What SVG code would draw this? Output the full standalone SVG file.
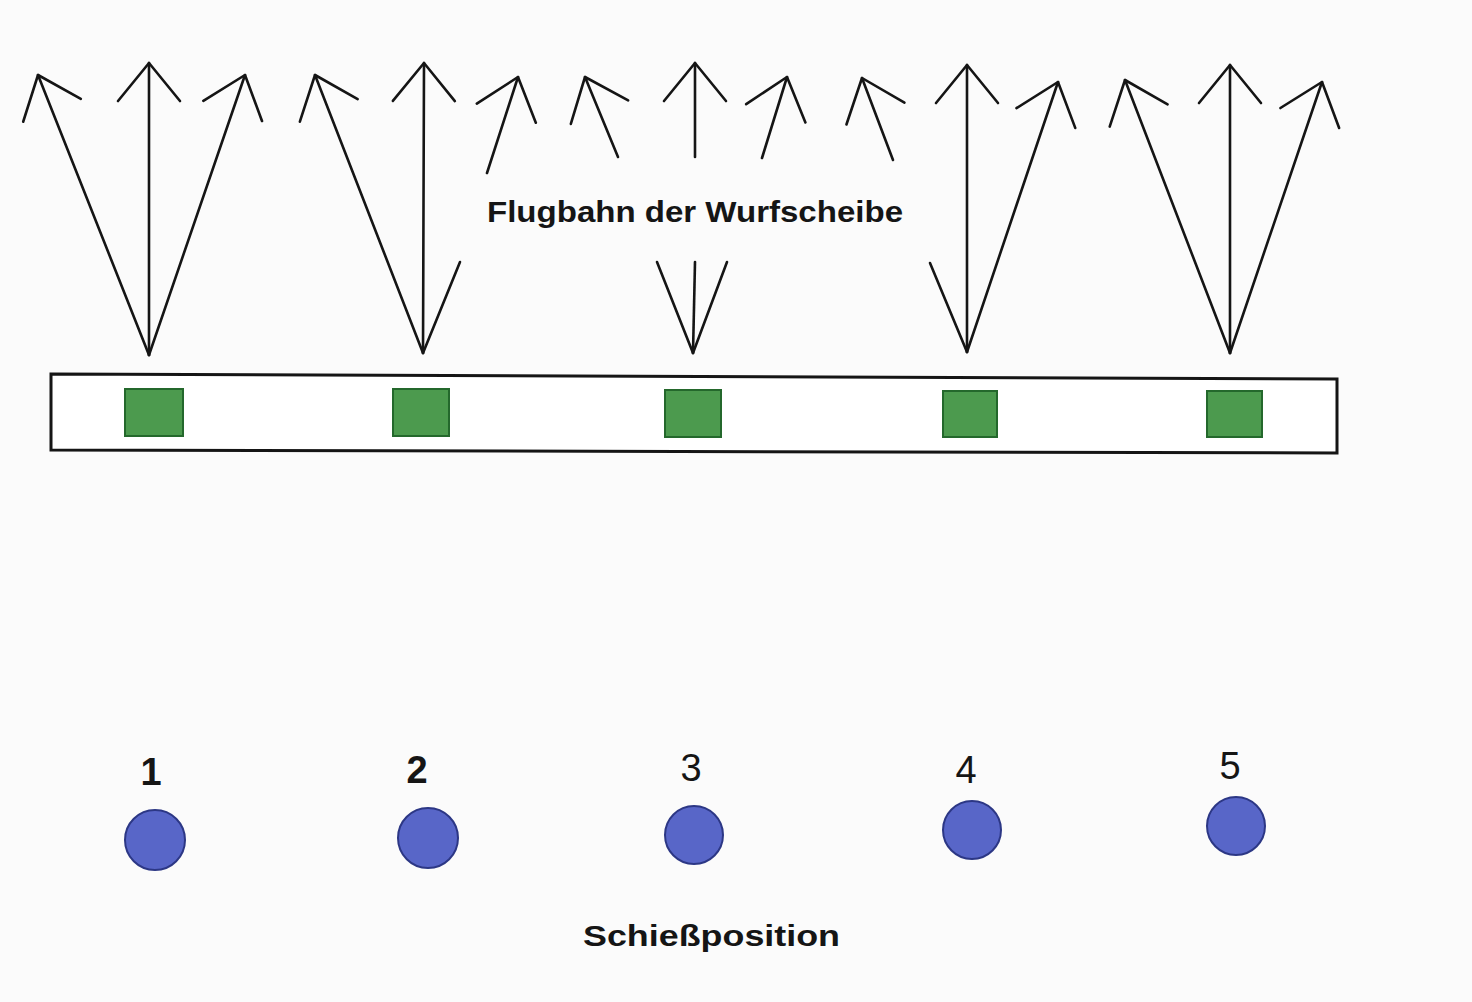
<svg xmlns="http://www.w3.org/2000/svg" width="1472" height="1002" viewBox="0 0 1472 1002">
<style>
.ln{stroke:#151515;stroke-width:2.6;fill:none;stroke-linecap:round}
.arr{marker-end:url(#head)}
.sq{fill:#4c9a4e;stroke:#24682c;stroke-width:2}
.dot{fill:#5866c8;stroke:#2c3785;stroke-width:2}
.lbl{font-family:"Liberation Sans",Arial,sans-serif;fill:#151515}
.num{font-size:38px;text-anchor:middle}
.cap{font-size:30px;font-weight:bold}
</style>
<defs>
<marker id="head" markerUnits="userSpaceOnUse" viewBox="-42 -36 46 72" markerWidth="46" markerHeight="72" refX="0" refY="0" orient="auto" overflow="visible">
<path d="M-38,-31 L0,0 L-38,31" fill="none" stroke="#151515" stroke-width="2.6" stroke-linecap="round" stroke-linejoin="round"/>
</marker>
</defs>
<rect x="0" y="0" width="1472" height="1002" fill="#fbfbfb"/>
<g id="connectors">
<line class="ln arr" x1="149" y1="355" x2="38" y2="75"/>
<line class="ln arr" x1="149" y1="355" x2="149" y2="63"/>
<line class="ln arr" x1="149" y1="355" x2="245" y2="75"/>
<line class="ln arr" x1="423" y1="353" x2="315" y2="75"/>
<line class="ln arr" x1="423" y1="353" x2="424" y2="63"/>
<line class="ln" x1="423" y1="353" x2="460" y2="262"/>
<line class="ln arr" x1="487" y1="173" x2="518" y2="77"/>
<line class="ln" x1="693" y1="353" x2="657" y2="262"/>
<line class="ln arr" x1="618" y1="157" x2="585" y2="77"/>
<line class="ln" x1="693" y1="353" x2="695" y2="262"/>
<line class="ln arr" x1="695" y1="157" x2="695" y2="63"/>
<line class="ln" x1="693" y1="353" x2="727" y2="262"/>
<line class="ln arr" x1="762" y1="158" x2="787" y2="77"/>
<line class="ln" x1="967" y1="352" x2="930" y2="263"/>
<line class="ln arr" x1="893" y1="160" x2="862" y2="78"/>
<line class="ln arr" x1="967" y1="352" x2="967" y2="65"/>
<line class="ln arr" x1="967" y1="352" x2="1058" y2="82"/>
<line class="ln arr" x1="1230" y1="353" x2="1125" y2="80"/>
<line class="ln arr" x1="1230" y1="353" x2="1230" y2="65"/>
<line class="ln arr" x1="1230" y1="353" x2="1322" y2="82"/>
</g>
<g id="trajectory-label">
<text class="lbl cap" x="487" y="222" textLength="416" lengthAdjust="spacingAndGlyphs">Flugbahn der Wurfscheibe</text>
</g>
<g id="trap-house">
<polygon points="51,374 1337,379 1337,453 51,450" fill="#ffffff" stroke="#151515" stroke-width="3"/>
</g>
<g id="machine-1"><rect class="sq" x="125" y="389" width="58" height="47"/></g>
<g id="machine-2"><rect class="sq" x="393" y="389" width="56" height="47"/></g>
<g id="machine-3"><rect class="sq" x="665" y="390" width="56" height="47"/></g>
<g id="machine-4"><rect class="sq" x="943" y="391" width="54" height="46"/></g>
<g id="machine-5"><rect class="sq" x="1207" y="391" width="55" height="46"/></g>
<g id="position-1"><text class="lbl num" x="151" y="785" font-weight="bold">1</text><circle class="dot" cx="155" cy="840" r="30"/></g>
<g id="position-2"><text class="lbl num" x="417" y="783" font-weight="bold">2</text><circle class="dot" cx="428" cy="838" r="30"/></g>
<g id="position-3"><text class="lbl num" x="691" y="781">3</text><circle class="dot" cx="694" cy="835" r="29"/></g>
<g id="position-4"><text class="lbl num" x="966" y="783">4</text><circle class="dot" cx="972" cy="830" r="29"/></g>
<g id="position-5"><text class="lbl num" x="1230" y="779">5</text><circle class="dot" cx="1236" cy="826" r="29"/></g>
<g id="shooting-label">
<text class="lbl cap" x="583" y="946" font-size="32" textLength="257" lengthAdjust="spacingAndGlyphs">Schießposition</text>
</g>
</svg>
